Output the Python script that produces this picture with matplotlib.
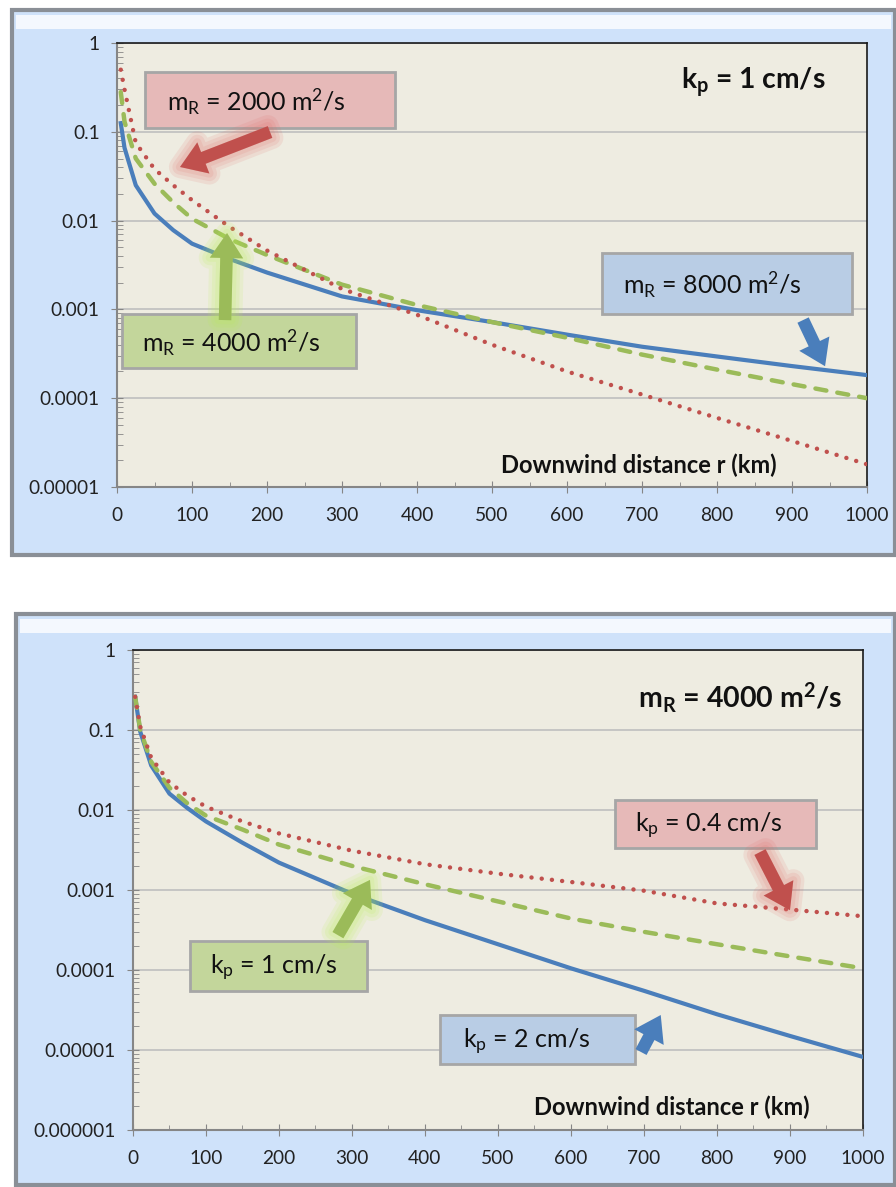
import numpy as np
import matplotlib
matplotlib.use('Agg')
import matplotlib.pyplot as plt
from matplotlib.patches import Rectangle
from matplotlib.ticker import FixedLocator, FuncFormatter, MultipleLocator

plt.rcParams['font.family'] = ['Lato', 'DejaVu Sans']
plt.rcParams['mathtext.default'] = 'regular'

# downwind distance r (km)
r_km = [5, 10, 25, 50, 75, 100, 150, 200, 300, 400, 500, 600, 700, 800, 900, 1000]

# top panel: k_p = 1 cm/s, different mixing rates m_R
top_m2000 = [0.5, 0.3, 0.075, 0.038, 0.025, 0.017, 0.0085, 0.0046, 0.0017,
             0.00087, 0.0004, 0.0002, 0.00011, 0.00006, 0.000033, 0.000018]
top_m4000 = [0.28, 0.13, 0.05, 0.026, 0.016, 0.0105, 0.0062, 0.0041, 0.0019,
             0.00112, 0.00072, 0.00048, 0.00031, 0.00021, 0.000144, 0.0001]
top_m8000 = [0.125, 0.066, 0.025, 0.012, 0.0078, 0.0055, 0.0037, 0.0026, 0.0014,
             0.00098, 0.00072, 0.00052, 0.00038, 0.000295, 0.00023, 0.000182]

# bottom panel: m_R = 4000 m2/s, different deposition velocities k_p
bot_k04 = [0.26, 0.11, 0.045, 0.022, 0.015, 0.011, 0.0072, 0.0051, 0.0031,
           0.0021, 0.0016, 0.00126, 0.00098, 0.00068, 0.00057, 0.00047]
bot_k1 = [0.26, 0.1, 0.04, 0.019, 0.012, 0.0085, 0.0057, 0.0037, 0.002,
          0.00118, 0.00072, 0.00044, 0.0003, 0.00021, 0.000148, 0.000105]
bot_k2 = [0.26, 0.095, 0.036, 0.016, 0.0105, 0.0072, 0.0039, 0.0022, 0.0009,
          0.00042, 0.00021, 0.000105, 0.000055, 0.000028, 0.000015, 0.0000082]

top_yticks = [1e-5, 1e-4, 1e-3, 1e-2, 1e-1, 1]
bot_yticks = [1e-6, 1e-5, 1e-4, 1e-3, 1e-2, 1e-1, 1]
xticks = [0, 100, 200, 300, 400, 500, 600, 700, 800, 900, 1000]

BLUE = '#4A7EBB'
GREEN = '#9BBB59'
RED = '#C0504D'

fig = plt.figure(figsize=(8.96, 11.87), dpi=100)
fig.patch.set_facecolor('white')


def panel_frame(rect):
    x, y, w, h = rect
    fig.patches.append(Rectangle((x, y), w, h, transform=fig.transFigure,
                                 facecolor='#CFE2FA', edgecolor='#8A8F96',
                                 lw=3, zorder=-10))
    # light bevel along top
    fig.patches.append(Rectangle((x + 0.004, y + h - 0.016), w - 0.008, 0.012,
                                 transform=fig.transFigure, facecolor='#F4F8FE',
                                 edgecolor='none', zorder=-9))


def style_axes(ax, yticks):
    ax.set_facecolor('#EEECE1')
    ax.set_yscale('log')
    ax.set_xlim(0, 1000)
    ax.set_ylim(yticks[0], yticks[-1])
    ax.yaxis.set_major_locator(FixedLocator(yticks))
    ax.yaxis.set_major_formatter(FuncFormatter(
        lambda v, p: np.format_float_positional(v, trim='-')))
    ax.set_xticks(xticks)
    ax.xaxis.set_minor_locator(MultipleLocator(50))
    ax.grid(axis='y', which='major', color='#BFBFBF', lw=1.2)
    ax.set_axisbelow(True)
    for s in ('left', 'bottom'):
        ax.spines[s].set_color('#868686')
        ax.spines[s].set_linewidth(1.5)
    for s in ('top', 'right'):
        ax.spines[s].set_color('#1A1A1A')
        ax.spines[s].set_linewidth(1.2)
    ax.tick_params(axis='both', which='major', direction='inout', length=9,
                   color='#868686', labelsize=13.8, labelcolor='#222222')
    ax.tick_params(axis='y', which='major', pad=8)
    ax.tick_params(axis='x', which='major', pad=10)
    ax.tick_params(axis='both', which='minor', direction='in', length=4.5,
                   color='#868686')
    ax.tick_params(axis='x', which='minor', length=3.5)


def label_box(ax, x0, y0, x1, y1, tx, ty, text, fc):
    ax.add_patch(Rectangle((x0, y0), x1 - x0, y1 - y0, transform=ax.transAxes,
                           facecolor=fc, edgecolor='#A6A6A6', lw=2, zorder=5))
    ax.text(tx, ty, text, transform=ax.transAxes, fontsize=18, color='#111111',
            va='center', ha='left', zorder=6)


def arrow(ax, tail, tip, color, glow=None):
    style = 'simple,head_length=0.9,head_width=1.2,tail_width=0.45'
    if glow:
        # soft halo, several faint layers
        for w in (16, 11, 6):
            ax.annotate('', xy=tip, xytext=tail, xycoords='axes fraction',
                        arrowprops=dict(arrowstyle=style, fc=glow, ec=glow, lw=w,
                                        alpha=0.13, mutation_scale=20,
                                        joinstyle='round',
                                        shrinkA=0, shrinkB=0), zorder=6)
    ax.annotate('', xy=tip, xytext=tail, xycoords='axes fraction',
                arrowprops=dict(arrowstyle=style, fc=color, ec='none',
                                mutation_scale=20, shrinkA=0, shrinkB=0),
                zorder=7)


dot_style = (0, (0.01, 2.3))
dash_style = (0, (2.5, 2.5))

# ---------------- top panel ----------------
panel_frame((0.0134, 0.5324, 0.9855, 0.4591))
ax1 = fig.add_axes([0.1306, 0.5897, 0.8371, 0.3741])
style_axes(ax1, top_yticks)
ax1.plot(r_km, top_m8000, color=BLUE, lw=3.0, zorder=3,
         solid_joinstyle='round')
ax1.plot(r_km, top_m4000, color=GREEN, lw=3.2, ls=dash_style,
         dash_capstyle='round', zorder=3)
ax1.plot(r_km, top_m2000, color=RED, lw=3.2, ls=dot_style,
         dash_capstyle='round', zorder=3)

label_box(ax1, 0.0373, 0.8086, 0.3707, 0.9347, 0.0667, 0.868,
          r'm$_R$ = 2000 m$^2$/s', '#E6B9B8')
arrow(ax1, (0.204, 0.7995), (0.084, 0.7207), RED, glow='#E06A66')
label_box(ax1, 0.0067, 0.268, 0.3187, 0.3896, 0.0333, 0.325,
          r'm$_R$ = 4000 m$^2$/s', '#C3D69B')
arrow(ax1, (0.144, 0.376), (0.1467, 0.572), GREEN, glow='#B8F050')
label_box(ax1, 0.6467, 0.3896, 0.98, 0.527, 0.6747, 0.456,
          r'm$_R$ = 8000 m$^2$/s', '#B9CDE5')
arrow(ax1, (0.9147, 0.376), (0.944, 0.272), BLUE)
ax1.text(0.752, 0.912, r'k$_p$ = 1 cm/s', transform=ax1.transAxes,
         fontsize=20.3, fontweight='bold', va='center', ha='left', color='#111111')
ax1.text(0.696, 0.05, 'Downwind distance r (km)', transform=ax1.transAxes,
         fontsize=17.1, fontweight='bold', va='center', ha='center', color='#111111')

# ---------------- bottom panel ----------------
panel_frame((0.0179, 0.0017, 0.981, 0.481))
ax2 = fig.add_axes([0.1484, 0.0480, 0.8147, 0.4044])
style_axes(ax2, bot_yticks)
r_bot = [3] + r_km[1:]
ax2.plot(r_bot, bot_k2, color=BLUE, lw=3.0, zorder=3,
         solid_joinstyle='round')
ax2.plot(r_bot, bot_k1, color=GREEN, lw=3.2, ls=dash_style,
         dash_capstyle='round', zorder=3)
ax2.plot(r_bot, bot_k04, color=RED, lw=3.2, ls=dot_style,
         dash_capstyle='round', zorder=3)

ax2.text(0.6918, 0.9, r'm$_R$ = 4000 m$^2$/s', transform=ax2.transAxes,
         fontsize=20.5, fontweight='bold', va='center', ha='left', color='#111111')
label_box(ax2, 0.660, 0.5875, 0.9356, 0.6875, 0.6877, 0.634,
          r'k$_p$ = 0.4 cm/s', '#E6B9B8')
arrow(ax2, (0.859, 0.579), (0.900, 0.458), RED, glow='#E06A66')
label_box(ax2, 0.0781, 0.2896, 0.3205, 0.3938, 0.1055, 0.338,
          r'k$_p$ = 1 cm/s', '#C3D69B')
arrow(ax2, (0.2808, 0.406), (0.3247, 0.521), GREEN, glow='#B8F050')
label_box(ax2, 0.4205, 0.1375, 0.6877, 0.2396, 0.452, 0.184,
          r'k$_p$ = 2 cm/s', '#B9CDE5')
arrow(ax2, (0.696, 0.1625), (0.723, 0.2396), BLUE)
ax2.text(0.738, 0.048, 'Downwind distance r (km)', transform=ax2.transAxes,
         fontsize=17.1, fontweight='bold', va='center', ha='center', color='#111111')

fig.savefig('out.png', dpi=100)
